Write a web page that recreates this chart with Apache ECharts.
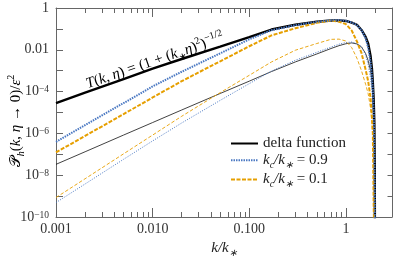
<!DOCTYPE html>
<html><head><meta charset="utf-8">
<script src="https://cdn.jsdelivr.net/npm/echarts@6/dist/echarts.min.js"></script>
<style>html,body{margin:0;padding:0;background:#fff}#c{width:394px;height:256px}</style>
</head><body><div id="c"></div>
<script>
// k / k_*
const kValues = [0.001, 0.002, 0.005, 0.01, 0.02, 0.05, 0.1, 0.17, 0.3, 0.5, 0.7, 0.85, 1.0, 1.15, 1.3, 1.45, 1.6, 1.7, 1.8, 1.86, 1.9, 1.94, 1.97, 1.99, 2.0];
// thick curves
const deltaThick = [2.82e-5, 8.91e-5, 3.98e-4, 1.26e-3, 3.63e-3, 1.41e-2, 4.07e-2, 9.33e-2, 0.158, 0.219, 0.251, 0.257, 0.240, 0.200, 0.158, 0.0891, 0.0417, 0.0200, 5.01e-3, 1.26e-3, 2.82e-4, 3.98e-5, 3.16e-6, 3.16e-8, 1e-13];
const kc09Thick = [3.98e-7, 2.51e-6, 2.82e-5, 1.78e-4, 8.91e-4, 6.76e-3, 3.16e-2, 8.71e-2, 0.151, 0.219, 0.257, 0.263, 0.245, 0.204, 0.151, 0.0891, 0.0355, 0.0126, 2.51e-3, 5.01e-4, 1.26e-4, 1e-5, 3.16e-7, 1e-9, 1e-13];
const kc01Thick = [1.23e-7, 7.59e-7, 8.32e-6, 5.25e-5, 3.16e-4, 2.82e-3, 1.48e-2, 4.90e-2, 0.107, 0.195, 0.251, 0.219, 0.170, 0.0832, 0.0251, 7.08e-3, 1.12e-3, 3.16e-4, 5.01e-5, 6.31e-6, 1e-6, 3.16e-10, 1e-11, 1e-14, 1e-15];
// thin curves
const deltaThin = [3.31e-8, 1.32e-7, 8.32e-7, 3.31e-6, 1.32e-5, 8.13e-5, 3.16e-4, 9.12e-4, 2.63e-3, 6.31e-3, 1.15e-2, 1.58e-2, 1.95e-2, 2.14e-2, 1.91e-2, 1.38e-2, 6.61e-3, 3.02e-3, 1e-3, 3.16e-4, 6.31e-5, 3.16e-6, 1e-7, 1e-9, 1e-13];
const kc09Thin = [4.90e-10, 3.80e-9, 5.75e-8, 4.37e-7, 3.16e-6, 3.80e-5, 2.40e-4, 9.55e-4, 3.16e-3, 7.59e-3, 1.35e-2, 1.86e-2, 2.24e-2, 2.34e-2, 2.00e-2, 1.38e-2, 5.62e-3, 2.00e-3, 4.47e-4, 1e-4, 1.58e-5, 1e-6, 3.16e-8, 1e-10, 1e-13];
const kc01Thin = [8.51e-10, 6.76e-9, 1.05e-7, 8.32e-7, 6.61e-6, 8.91e-5, 6.03e-4, 2.63e-3, 9.55e-3, 2.00e-2, 3.16e-2, 3.24e-2, 2.63e-2, 1.26e-2, 3.98e-3, 1e-3, 2.24e-4, 7.94e-5, 1.58e-5, 3.16e-6, 6.31e-7, 3.16e-8, 1e-9, 1e-12, 1e-14];
// axes ticks
const xMajorTicks = [0.001, 0.01, 0.1, 1];
const xMajorLabels = ['0.001', '0.010', '0.100', '1'];
const xMinorTicks = [0.002,0.003,0.004,0.005,0.006,0.007,0.008,0.009,0.02,0.03,0.04,0.05,0.06,0.07,0.08,0.09,0.2,0.3,0.4,0.5,0.6,0.7,0.8,0.9,2,3];
const yTicks = [1e-10,1e-9,1e-8,1e-7,1e-6,1e-5,1e-4,1e-3,1e-2,1e-1,1];
const yLabelValues = [1e-10,1e-8,1e-6,1e-4,1e-2,1];
const yLabels = ['10{sup|−10}','10{sup|−8}','10{sup|−6}','10{sup|−4}','0.01','1'];

const SERIF = 'Liberation Serif';
const BLUE = '#4a78c2', ORANGE = '#e69f00', AXIS = '#666';
const richBase = {
  n: {fontFamily: SERIF, fontSize: 15, lineHeight: 20, color: '#222', fontWeight: 'normal'},
  i: {fontFamily: SERIF, fontSize: 15, lineHeight: 20, fontStyle: 'italic', color: '#222', fontWeight: 'normal'},
  P: {fontFamily: SERIF, fontSize: 15, lineHeight: 20, color: '#222'},
  sub: {fontFamily: SERIF, fontSize: 10, lineHeight: 14, verticalAlign: 'bottom', fontStyle: 'italic', color: '#222'},
  subn: {fontFamily: SERIF, fontSize: 10, lineHeight: 14, verticalAlign: 'bottom', color: '#222'},
  sup: {fontFamily: SERIF, fontSize: 10, lineHeight: 10, verticalAlign: 'top', color: '#222'}
};

const pairs = arr => kValues.map((k, i) => [k, arr[i]]);
const chart = echarts.init(document.getElementById('c'), null, {renderer: 'canvas'});

function xAx(pos, major) {
  return {
    type: 'log', logBase: 10, min: 0.001, max: 3, position: pos, gridIndex: 0,
    axisLine: {show: major, lineStyle: {color: AXIS, width: 1}},
    axisTick: {show: true, inside: true, length: major ? 9 : 5, customValues: major ? xMajorTicks : xMinorTicks, lineStyle: {color: AXIS, width: 1}},
    axisLabel: (pos === 'bottom' && major) ? {
      show: true, customValues: xMajorTicks, margin: 5, fontFamily: SERIF, fontSize: 14, color: '#333',
      formatter: v => { const i = xMajorTicks.findIndex(t => Math.abs(Math.log10(t) - Math.log10(v)) < 1e-6); return i >= 0 ? xMajorLabels[i] : ''; }
    } : {show: false},
    splitLine: {show: false}, minorTick: {show: false}
  };
}
function yAx(pos) {
  const left = pos === 'left';
  return {
    type: 'log', logBase: 10, min: 1e-10, max: 1, position: pos, gridIndex: 0,
    axisLine: {show: true, lineStyle: {color: AXIS, width: 1}},
    axisTick: {show: true, inside: true, length: left ? 7 : 4.5, customValues: yTicks, lineStyle: {color: AXIS, width: 1}},
    axisLabel: left ? {
      show: true, customValues: yLabelValues, margin: 7, fontFamily: SERIF, fontSize: 14, color: '#333',
      formatter: v => { const i = yLabelValues.findIndex(t => Math.abs(Math.log10(t) - Math.log10(v)) < 1e-6); return i >= 0 ? yLabels[i] : ''; },
      rich: {sup: {fontFamily: SERIF, fontSize: 9.5, lineHeight: 9, verticalAlign: 'top', color: '#333'}}
    } : {show: false},
    splitLine: {show: false}
  };
}

const xa = [xAx('bottom', true), xAx('bottom', false), xAx('top', true), xAx('top', false)];
xa[0].name = '{i|k/k}{sub|∗}';
xa[0].nameLocation = 'middle';
xa[0].nameGap = 10;
xa[0].nameTextStyle = {rich: richBase};

const legendNames = {
  delta: '{n|delta function}',
  kc09: '{i|k}{sub|c}{i|/k}{sub|∗}{n| = 0.9}',
  kc01: '{i|k}{sub|c}{i|/k}{sub|∗}{n| = 0.1}'
};

function line(name, arr, color, width, type, z) {
  return {
    name, type: 'line', xAxisIndex: 0, yAxisIndex: 0, data: pairs(arr),
    showSymbol: false, symbol: 'none', smooth: false, clip: true, z,
    lineStyle: {color, width, type}, itemStyle: {color}, emphasis: {disabled: true}, animation: false
  };
}

chart.setOption({
  animation: false,
  grid: {left: 56, right: 2, top: 8, bottom: 39, containLabel: false, outerBoundsMode: 'none'},
  xAxis: xa,
  yAxis: [yAx('left'), yAx('right')],
  legend: {
    data: ['delta', 'kc09', 'kc01'], orient: 'vertical', left: 230, top: 136,
    itemWidth: 27, itemHeight: 14, itemGap: 1.7, padding: 0,
    itemStyle: {color: 'rgba(0,0,0,0)', borderColor: 'rgba(0,0,0,0)', borderWidth: 0},
    formatter: n => legendNames[n], textStyle: {rich: richBase, fontWeight: 'normal'}
  },
  series: [
    line('dthin', deltaThin, '#111', 0.8, 'solid', 2),
    line('k09thin', kc09Thin, BLUE, 1, [1, 1.5], 2),
    line('k01thin', kc01Thin, ORANGE, 0.9, [3.5, 2], 2),
    line('delta', deltaThick, '#000', 2.4, 'solid', 3),
    line('kc01', kc01Thick, ORANGE, 2, [4, 1.5], 4),
    line('kc09', kc09Thick, BLUE, 2, [1.5, 1], 5)
  ],
  graphic: [
    {type: 'text', x: 16, y: 121, rotation: Math.PI / 2,
     style: {text: '{P|𝒫}{sub|h}{n|(}{i|k}{n|, }{i|η}{n| → 0)/}{i|ε}{sup|2}', rich: richBase, align: 'center', verticalAlign: 'middle'}},
    {type: 'text', x: 155, y: 61, rotation: 19 * Math.PI / 180,
     style: {text: '{i|T}{n|(}{i|k}{n|, }{i|η}{n|) = (1 + (}{i|k}{subn|∗}{i|η}{n|)}{sup|2}{n|)}{sup|−1/2}', rich: richBase, align: 'center', verticalAlign: 'middle'}}
  ]
});
</script></body></html>
